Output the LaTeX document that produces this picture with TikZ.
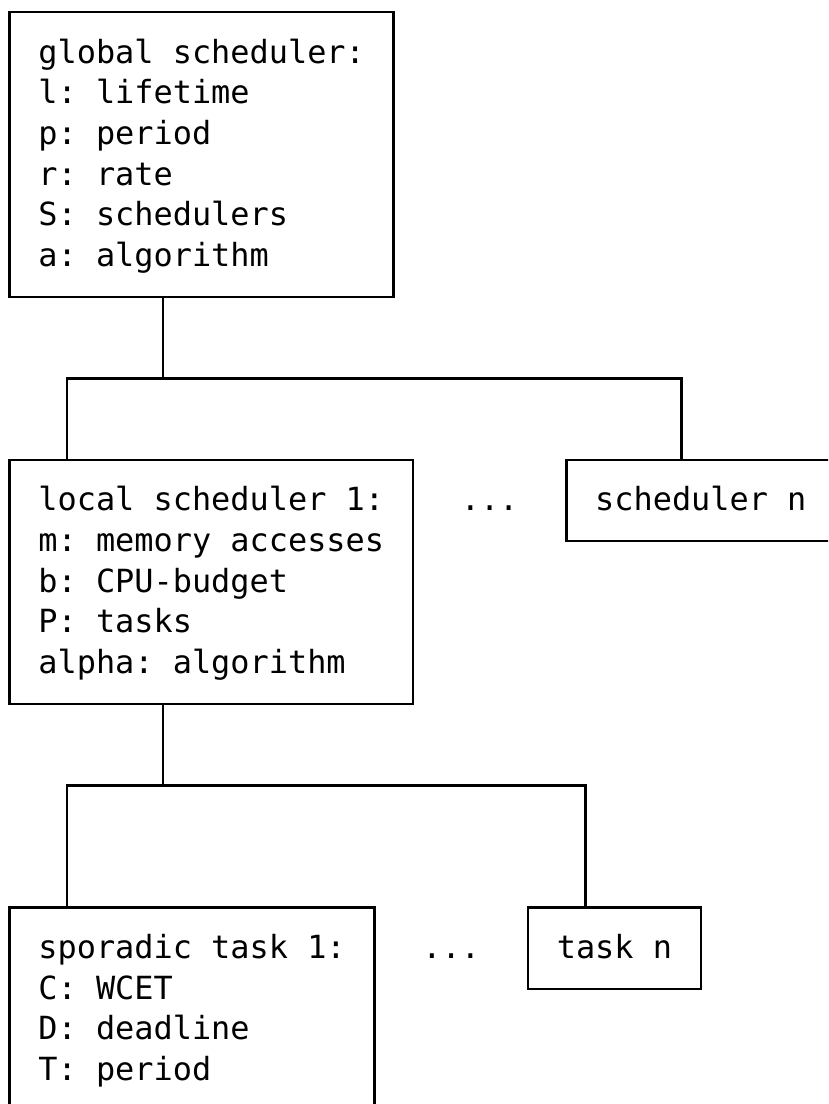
\documentclass[tikz,border=0pt]{standalone}
\usepackage{fontspec}
\newfontfamily\dmono{DejaVu Sans Mono}
\begin{document}
\frenchspacing
\begin{tikzpicture}[x=1pt,y=-1pt,
  boxst/.style={draw=black, line width=2.4pt, rectangle, inner sep=0pt, outer sep=0pt, anchor=north west},
  lnk/.style={draw=black, line width=2.4pt, line join=miter},
  txt/.style={anchor=base west, inner sep=0pt, outer sep=0pt, font=\dmono\fontsize{31.9pt}{40.7pt}\selectfont\frenchspacing}]
\useasboundingbox (0,0) rectangle (828,1104);
\clip (0,0) rectangle (828,1104);
\fill[white] (0,0) rectangle (828,1104);
% boxes
\node[boxst, minimum width=384pt, minimum height=284.9pt] (gbox) at (9.6,12) {};
\node[boxst, minimum width=403.2pt, minimum height=244.2pt] (lbox) at (9.6,459.7) {};
\node[boxst, minimum width=273.6pt, minimum height=81.4pt] (snbox) at (566.4,459.7) {};
\node[boxst, minimum width=364.8pt, minimum height=203.5pt] (spbox) at (9.6,907.4) {};
\node[boxst, minimum width=172.8pt, minimum height=81.4pt] (tnbox) at (528,907.4) {};
% texts
\foreach \t [count=\i from 0] in {global scheduler:, l: lifetime, p: period, r: rate, S: schedulers, a: algorithm}
  \node[txt, name=gt\i] at (38.4, 63+40.7*\i) {\t};
\foreach \t [count=\i from 0] in {local scheduler 1:, m: memory accesses, b: CPU-budget, P: tasks, alpha: algorithm}
  \node[txt, name=lt\i] at (38.4, 510.7+40.7*\i) {\t};
\foreach \t [count=\i from 0] in {sporadic task 1:, C: WCET, D: deadline, T: period}
  \node[txt, name=st\i] at (38.4, 958.4+40.7*\i) {\t};
\node[txt] (dots1) at (460.8, 510.7) {...};
\node[txt] (snt) at (595.2, 510.7) {scheduler n};
\node[txt] (dots2) at (422.4, 958.4) {...};
\node[txt] (tnt) at (556.8, 958.4) {task n};
% connectors
\coordinate (ja) at (163.2, 378.3);
\coordinate (jal) at (67.2, 378.3);
\coordinate (jar) at (681.6, 378.3);
\draw[lnk] (gbox.south -| ja) -- (ja);
\draw[lnk] (lbox.north -| jal) -- (jal) -- (jar) -- (snbox.north -| jar);
\coordinate (jb) at (163.2, 785.3);
\coordinate (jbl) at (67.2, 785.3);
\coordinate (jbr) at (585.6, 785.3);
\draw[lnk] (lbox.south -| jb) -- (jb);
\draw[lnk] (spbox.north -| jbl) -- (jbl) -- (jbr) -- (tnbox.north -| jbr);
\end{tikzpicture}
\end{document}
